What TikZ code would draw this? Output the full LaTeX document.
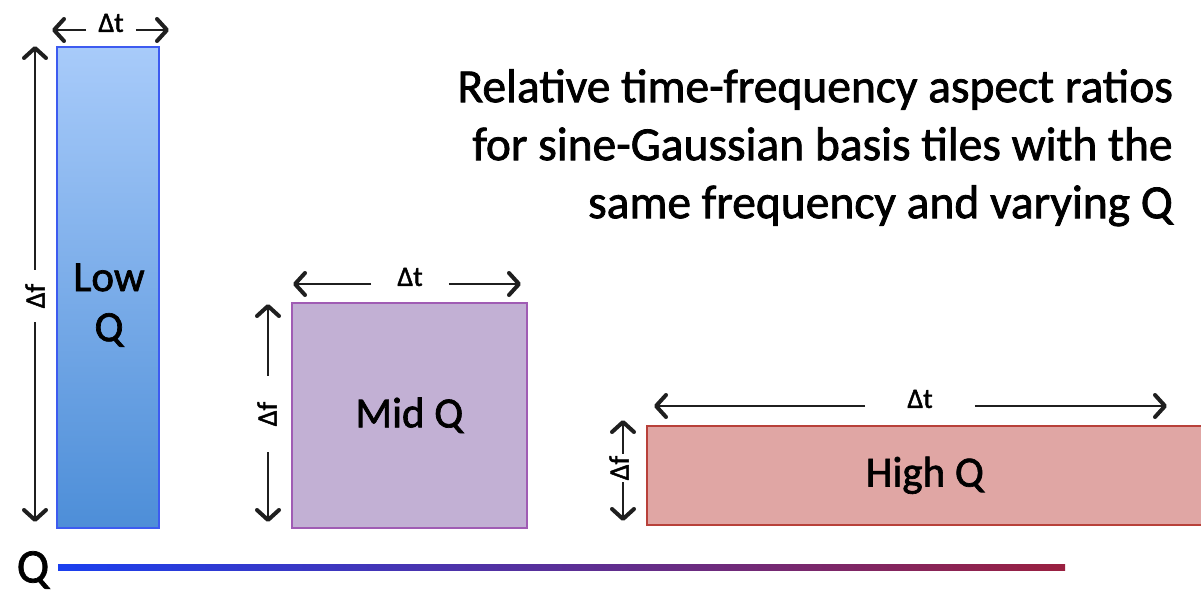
\documentclass[tikz,border=0pt]{standalone}
\usepackage{fontspec}
\setmainfont{Carlito}[FakeBold=1.6]
\usetikzlibrary{arrows.meta}
\definecolor{lowtop}{HTML}{A8CBFA}
\definecolor{lowbot}{HTML}{4D8ED8}
\definecolor{lowline}{HTML}{3D5BF0}
\definecolor{midfill}{HTML}{C2B0D4}
\definecolor{midline}{HTML}{A05CB4}
\definecolor{highfill}{HTML}{E0A6A4}
\definecolor{highline}{HTML}{B8413A}
\definecolor{qleft}{HTML}{1A3FEF}
\definecolor{qright}{HTML}{9A2040}
\tikzset{
  tile/.style={draw, line width=1.6pt, inner sep=0pt, align=center, font=\fontsize{43}{50}\selectfont},
  dimarr/.style={-{Straight Barb[length=10pt,width=22pt,line width=4pt,round]}, line width=2.6pt, black!88},
  dimlbl/.style={font=\fontsize{28}{30}\selectfont, inner sep=0pt},
}
\begin{document}
\begin{tikzpicture}[x=1pt,y=-1pt]
\useasboundingbox (0,0) rectangle (1201,597);
% tiles
\node[tile, draw=lowline, top color=lowtop, bottom color=lowbot, minimum width=102pt, minimum height=481pt, anchor=north west] (low) at (56,46) {};
\node[font=\fontsize{43}{50}\selectfont, align=center, anchor=north] (lowtxt) at (109,260) {Low\\Q};
\node[tile, draw=midline, fill=midfill, minimum width=235pt, minimum height=225pt, anchor=north west] (mid) at (291,302) {Mid Q};
\node[tile, draw=highline, fill=highfill, minimum width=556pt, minimum height=99pt, anchor=north west] (high) at (646,425) {High Q};
% low dims
\node[dimlbl, inner xsep=12pt] (lt) at (111,23) {Δt};
\coordinate (lt1) at (52,30); \coordinate (lt2) at (169,30);
\draw[dimarr] (lt.west |- lt1) -- (lt1);
\draw[dimarr] (lt.east |- lt2) -- (lt2);
\node[dimlbl, rotate=90, inner xsep=14pt] (lf) at (35,296) {Δf};
\coordinate (lf1) at (35,46); \coordinate (lf2) at (35,522);
\draw[dimarr] (lf.east) -- (lf1);
\draw[dimarr] (lf.west) -- (lf2);
% mid dims
\node[dimlbl, inner xsep=26pt] (mt) at (410,277) {Δt};
\coordinate (mt1) at (293,284); \coordinate (mt2) at (521,284);
\draw[dimarr] (mt.west |- mt1) -- (mt1);
\draw[dimarr] (mt.east |- mt2) -- (mt2);
\node[dimlbl, rotate=90, inner xsep=26pt] (mf) at (267,414) {Δf};
\coordinate (mf1) at (268,304); \coordinate (mf2) at (268,522);
\draw[dimarr] (mf.east -| mf1) -- (mf1);
\draw[dimarr] (mf.west -| mf2) -- (mf2);
% high dims
\node[dimlbl, inner xsep=42pt] (ht) at (920,399) {Δt};
\coordinate (ht1) at (654,406); \coordinate (ht2) at (1167,406);
\draw[dimarr] (ht.west |- ht1) -- (ht1);
\draw[dimarr] (ht.east |- ht2) -- (ht2);
\node[dimlbl, rotate=90, inner xsep=2pt] (hf) at (619,468) {Δf};
\coordinate (hf1) at (623,420); \coordinate (hf2) at (623,521);
\draw[dimarr] (hf.east -| hf1) -- (hf1);
\draw[dimarr] (hf.west -| hf2) -- (hf2);
% title
\node[anchor=north east, align=right, font=\fontsize{47.5}{58}\selectfont, inner sep=0pt] (title) at (1173,69)
 {Relative time-frequency aspect ratios\\for sine-Gaussian basis tiles with the\\same frequency and varying Q};
% Q axis
\node[font=\fontsize{48}{52}\selectfont, inner sep=0pt] (q) at (33,570) {Q};
\shade[left color=qleft, right color=qright] (58,564.5) rectangle (1065,570.5);
\end{tikzpicture}
\end{document}
